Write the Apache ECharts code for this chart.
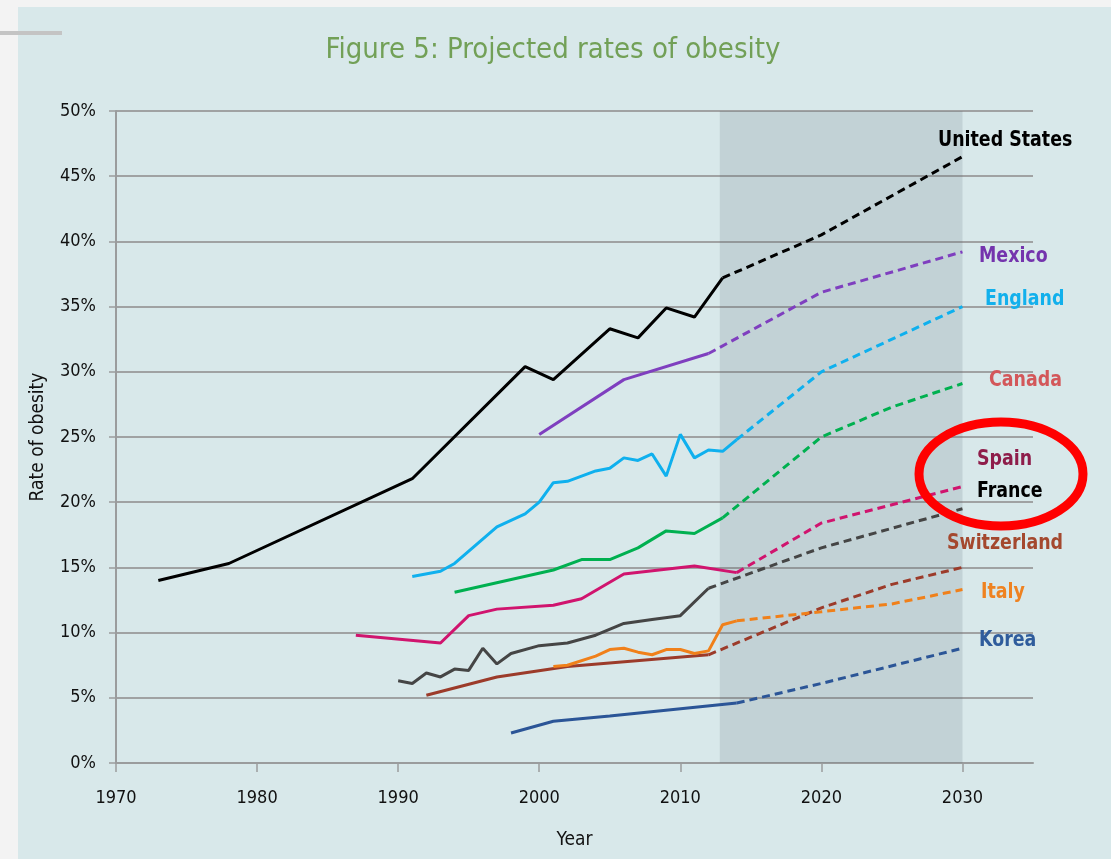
<!DOCTYPE html>
<html>
<head>
<meta charset="utf-8">
<script src="https://cdn.jsdelivr.net/npm/echarts@6/dist/echarts.min.js"></script>
<style>
  html, body { margin: 0; padding: 0; background: #f3f3f3; }
  #panel { position: absolute; left: 18px; top: 7px; right: 0; bottom: 0; background: #d8e8ea; }
  #chart { position: absolute; left: 0; top: 0; width: 1111px; height: 859px; }
</style>
</head>
<body>
<div id="panel"></div>
<div id="chart"></div>
<script>
// observed values, [year, % obese]
const usActual = [[1973, 14.0], [1978, 15.3], [1991, 21.8], [1999, 30.4], [2001, 29.4], [2005, 33.3], [2007, 32.6], [2009, 34.9], [2011, 34.2], [2013, 37.2]]
const usProjected = [[2013, 37.2], [2020, 40.5], [2030, 46.5]]

const mexicoActual = [[2000, 25.2], [2006, 29.4], [2012, 31.4]]
const mexicoProjected = [[2012, 31.4], [2020, 36.1], [2030, 39.2]]

const englandActual = [[1991, 14.3], [1993, 14.7], [1994, 15.3], [1997, 18.1], [1999, 19.1], [2000, 20.0], [2001, 21.5], [2002, 21.6], [2003, 22.0], [2004, 22.4], [2005, 22.6], [2006, 23.4], [2007, 23.2], [2008, 23.7], [2009, 22.0], [2010, 25.2], [2011, 23.4], [2012, 24.0], [2013, 23.9], [2014, 24.8]]
const englandProjected = [[2014, 24.8], [2020, 30.0], [2030, 35.0]]

const canadaActual = [[1994, 13.1], [2001, 14.8], [2003, 15.6], [2005, 15.6], [2007, 16.5], [2009, 17.8], [2011, 17.6], [2013, 18.8]]
const canadaProjected = [[2013, 18.8], [2020, 25.0], [2025, 27.3], [2030, 29.1]]

const spainActual = [[1987, 9.8], [1993, 9.2], [1995, 11.3], [1997, 11.8], [2001, 12.1], [2003, 12.6], [2006, 14.5], [2011, 15.1], [2014, 14.6]]
const spainProjected = [[2014, 14.6], [2020, 18.4], [2025, 19.8], [2030, 21.2]]

const franceActual = [[1990, 6.3], [1991, 6.1], [1992, 6.9], [1993, 6.6], [1994, 7.2], [1995, 7.1], [1996, 8.8], [1997, 7.6], [1998, 8.4], [2000, 9.0], [2002, 9.2], [2004, 9.8], [2006, 10.7], [2008, 11.0], [2010, 11.3], [2012, 13.4]]
const franceProjected = [[2012, 13.4], [2020, 16.5], [2030, 19.5]]

const switzerlandActual = [[1992, 5.2], [1997, 6.6], [2002, 7.4], [2012, 8.3]]
const switzerlandProjected = [[2012, 8.3], [2020, 11.9], [2025, 13.7], [2030, 15.0]]

const italyActual = [[2001, 7.4], [2002, 7.5], [2004, 8.2], [2005, 8.7], [2006, 8.8], [2007, 8.5], [2008, 8.3], [2009, 8.7], [2010, 8.7], [2011, 8.4], [2012, 8.6], [2013, 10.6], [2014, 10.9]]
const italyProjected = [[2014, 10.9], [2020, 11.6], [2025, 12.2], [2030, 13.3]]

const koreaActual = [[1998, 2.3], [2001, 3.2], [2005, 3.6], [2014, 4.6]]
const koreaProjected = [[2014, 4.6], [2020, 6.1], [2030, 8.8]]

const yearTicks = [1970, 1980, 1990, 2000, 2010, 2020, 2030]
const projectionSpan = [2012.8, 2030]

const font = "'Liberation Sans Narrow', 'DejaVu Sans Condensed', 'Open Sans', sans-serif"

const countries = [
  { name: 'United States', actual: usActual, proj: usProjected, color: '#000000', labelColor: '#000000', lx: 938, ly: 140 },
  { name: 'Mexico', actual: mexicoActual, proj: mexicoProjected, color: '#7f3fbf', labelColor: '#7434ad', lx: 979, ly: 256 },
  { name: 'England', actual: englandActual, proj: englandProjected, color: '#0fb0ee', labelColor: '#12b0ec', lx: 985, ly: 299 },
  { name: 'Canada', actual: canadaActual, proj: canadaProjected, color: '#00b050', labelColor: '#d3575a', lx: 989, ly: 380 },
  { name: 'Spain', actual: spainActual, proj: spainProjected, color: '#d0146e', labelColor: '#8e1d4a', lx: 977, ly: 459 },
  { name: 'France', actual: franceActual, proj: franceProjected, color: '#454545', labelColor: '#000000', lx: 977, ly: 491 },
  { name: 'Switzerland', actual: switzerlandActual, proj: switzerlandProjected, color: '#9c3b2a', labelColor: '#a4482e', lx: 947, ly: 543 },
  { name: 'Italy', actual: italyActual, proj: italyProjected, color: '#f0801a', labelColor: '#ef8220', lx: 981, ly: 592 },
  { name: 'Korea', actual: koreaActual, proj: koreaProjected, color: '#2b5597', labelColor: '#2f5c9c', lx: 979, ly: 640 }
]

const series = []
countries.forEach(c => {
  series.push({
    name: c.name,
    type: 'line',
    data: c.actual,
    showSymbol: false,
    lineStyle: { color: c.color, width: 3 },
    z: 3
  })
  series.push({
    name: c.name + ' projected',
    type: 'line',
    data: c.proj,
    showSymbol: false,
    lineStyle: { color: c.color, width: 3, type: [8, 5] },
    z: 3
  })
})
// shaded projection period
series[0].markArea = {
  silent: true,
  itemStyle: { color: 'rgba(80,100,110,0.16)' },
  data: [[{ xAxis: projectionSpan[0], yAxis: 0 }, { xAxis: projectionSpan[1], yAxis: 50 }]]
}

const labels = countries.map(c => ({
  type: 'text',
  x: c.lx,
  y: c.ly,
  scaleX: 0.88,
  z: 100,
  style: {
    text: c.name,
    fill: c.labelColor,
    font: `bold 22px ${font}`,
    textVerticalAlign: 'middle'
  }
}))

const options = {
  animation: false,
  title: {
    text: 'Figure 5: Projected rates of obesity',
    left: 548,
    top: 31,
    textAlign: 'center',
    textStyle: { color: '#72a057', fontSize: 29, fontWeight: 'normal', fontFamily: font }
  },
  grid: { left: 116, right: 78, top: 111, bottom: 96 },
  xAxis: {
    type: 'value',
    min: 1970,
    max: 2035,
    interval: 10,
    name: 'Year',
    nameLocation: 'middle',
    nameGap: 68,
    nameTextStyle: { color: '#111', fontSize: 19, fontFamily: font },
    axisLine: { lineStyle: { color: '#9a9c9d', width: 2 } },
    axisTick: { length: 9, lineStyle: { color: '#9a9c9d', width: 1.5 }, customValues: yearTicks },
    axisLabel: { color: '#111', fontSize: 18, fontFamily: font, margin: 26, customValues: yearTicks, formatter: v => String(v) },
    splitLine: { show: false }
  },
  yAxis: {
    type: 'value',
    min: 0,
    max: 50,
    interval: 5,
    name: 'Rate of obesity',
    nameLocation: 'middle',
    nameGap: 68,
    nameTextStyle: { color: '#111', fontSize: 19, fontFamily: font },
    axisLine: { show: true, lineStyle: { color: '#9a9c9d', width: 2 } },
    axisTick: { show: true, length: 7, lineStyle: { color: '#9a9c9d', width: 1.5 } },
    axisLabel: { color: '#111', fontSize: 18, fontFamily: font, margin: 20, formatter: '{value}%' },
    splitLine: { lineStyle: { color: '#a0a2a3', width: 2 } }
  },
  graphic: [
    { type: 'rect', shape: { x: 0, y: 31, width: 62, height: 4 }, style: { fill: '#c4c4c4' } },
    ...labels,
    {
      type: 'ellipse',
      shape: { cx: 1001, cy: 474, rx: 82, ry: 52 },
      style: { fill: 'none', stroke: '#ff0000', lineWidth: 9 },
      z: 110
    }
  ],
  series: series
}

const chartInstance = echarts.init(document.getElementById('chart'))
chartInstance.setOption(options)
</script>
</body>
</html>
